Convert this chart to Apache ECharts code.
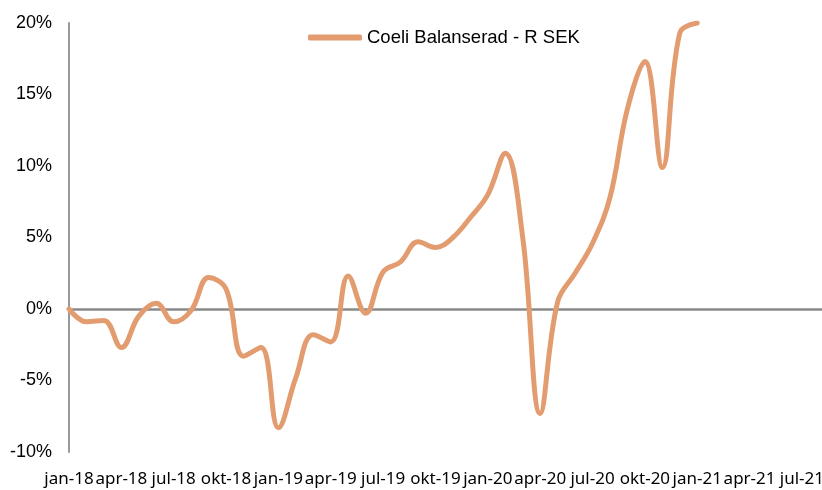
<!DOCTYPE html>
<html>
<head>
<meta charset="utf-8">
<script src="https://cdn.jsdelivr.net/npm/echarts@6/dist/echarts.min.js"></script>
<style>
  html, body { margin: 0; padding: 0; background: #fff; }
  #chart { width: 822px; height: 490px; }
</style>
</head>
<body>
<div id="chart"></div>
<script>
// kvartalsetiketter på x-axeln (månadsindex 0, 3, 6, ...)
var tickLabels = ['jan-18', 'apr-18', 'jul-18', 'okt-18', 'jan-19', 'apr-19', 'jul-19', 'okt-19',
                  'jan-20', 'apr-20', 'jul-20', 'okt-20', 'jan-21', 'apr-21', 'jul-21'];

// månadsindex från jan-18 och avkastning i procent
var months = [0, 1, 2, 3, 4, 5, 6, 7, 8, 9, 10, 11, 12, 13, 14, 15, 16, 17, 18,
              19, 20, 21, 22, 23, 24, 25, 26, 27, 28, 29, 30, 31, 32, 33, 34, 35, 36];
var returns = [0, -0.9, -0.8, -2.7, -0.5, 0.4, -0.9, -0.1, 2.2, 1.4, -3.3, -2.7, -8.3,
               -4.8, -1.8, -2.3, 2.3, -0.3, 2.6, 3.3, 4.7, 4.3, 5.0, 6.4, 8.0, 10.9,
               5.0, -7.3, 0.5, 2.5, 4.6, 7.8, 14.0, 17.3, 9.9, 19.3, 20.0];

var seriesName = 'Coeli Balanserad - R SEK';
var lineColor = '#E39C6F';

var chart = echarts.init(document.getElementById('chart'));

var points = [];
for (var i = 0; i < months.length; i++) {
    points.push([months[i], returns[i]]);
}

var option = {
    animation: false,
    backgroundColor: '#fff',
    grid: {
        left: 69,
        right: 0,
        top: 23,
        bottom: 38,
        outerBoundsMode: 'none'
    },
    legend: {
        data: [seriesName],
        left: 303,
        top: 23,
        icon: 'roundRect',
        itemWidth: 54,
        itemHeight: 6,
        itemGap: 5,
        textStyle: {
            fontFamily: 'Liberation Sans',
            fontSize: 18.5,
            color: '#000'
        }
    },
    xAxis: [
        {
            type: 'value',
            position: 'bottom',
            min: 0,
            max: 43.15,
            interval: 3,
            axisLine: { show: false, onZero: false },
            axisTick: { show: false },
            splitLine: { show: false },
            axisLabel: {
                margin: 19,
                fontFamily: 'Noto Sans',
                fontSize: 17,
                color: '#000',
                showMaxLabel: false,
                formatter: function (v) {
                    return tickLabels[Math.round(v / 3)] || '';
                }
            }
        },
        {
            // nollinjen
            type: 'value',
            position: 'bottom',
            min: 0,
            max: 43.15,
            axisLine: {
                show: true,
                onZero: true,
                lineStyle: { color: '#8a8a8a', width: 2.5 }
            },
            axisTick: { show: false },
            axisLabel: { show: false },
            splitLine: { show: false }
        }
    ],
    yAxis: {
        type: 'value',
        min: -10,
        max: 20,
        interval: 5,
        axisLine: {
            show: true,
            onZero: false,
            lineStyle: { color: '#999', width: 2 }
        },
        axisTick: { show: false },
        splitLine: { show: false },
        axisLabel: {
            margin: 17,
            fontFamily: 'Liberation Sans',
            fontSize: 18,
            color: '#000',
            formatter: '{value}%'
        }
    },
    series: [
        {
            name: seriesName,
            type: 'line',
            xAxisIndex: 0,
            data: points,
            smooth: 0.4,
            symbol: 'none',
            itemStyle: { color: lineColor },
            lineStyle: { color: lineColor, width: 5, cap: 'round', join: 'round' }
        }
    ]
};

chart.setOption(option);
</script>
</body>
</html>
